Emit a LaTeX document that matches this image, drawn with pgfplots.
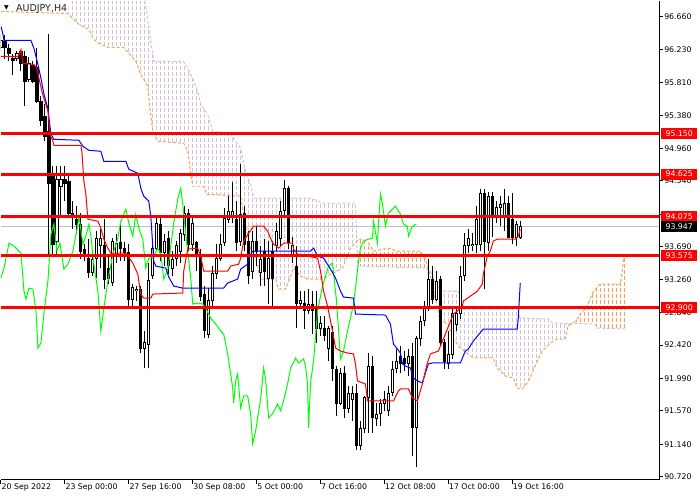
\documentclass[border=0pt]{standalone}
\usepackage{pgfplots}
\pgfplotsset{compat=1.18}
\usepackage{pgfplotstable}
\usepgfplotslibrary{fillbetween}
\usepackage{fontspec}
\setmainfont{DejaVu Sans}

\definecolor{thistleC}{RGB}{216,191,216}
\definecolor{sandyC}{RGB}{244,164,96}
\definecolor{limeC}{RGB}{0,255,0}
\definecolor{bidC}{RGB}{192,192,192}
\definecolor{mtred}{RGB}{255,0,0}
\definecolor{mtblue}{RGB}{0,0,255}

\pgfplotstableread{
x o h l c
0 96.26 96.43 96.21 96.35
4 96.34 96.42 96.11 96.26
8 96.25 96.31 96.08 96.18
12 96.12 96.18 95.90 96.09
16 96.12 96.21 96.08 96.18
20 96.21 96.23 95.95 96.05
24 96.14 96.21 95.50 95.82
28 95.85 96.14 95.82 96.05
32 96.03 96.08 95.80 95.82
36 96.00 96.25 95.54 95.56
40 95.56 95.63 95.24 95.31
44 95.37 95.53 95.05 95.11
48 95.18 96.43 93.57 94.50
52 94.60 94.73 93.55 93.72
56 93.76 94.73 93.55 94.56
60 94.47 94.73 94.08 94.56
64 94.56 94.73 94.28 94.50
68 94.53 94.60 94.08 94.11
72 94.12 94.28 93.92 94.06
76 94.04 94.21 93.85 93.98
80 93.98 94.12 93.53 93.63
84 93.66 93.72 93.50 93.59
88 93.54 93.79 93.28 93.35
92 93.35 93.66 93.31 93.53
96 93.54 93.89 93.28 93.80
100 93.70 93.92 93.41 93.80
104 93.70 94.04 93.14 93.27
108 93.41 93.59 93.21 93.28
112 93.22 93.80 93.18 93.76
116 93.57 93.85 93.48 93.73
120 93.74 93.98 93.50 93.67
124 93.67 93.75 93.50 93.61
128 93.61 93.73 92.92 93.01
132 93.01 93.21 92.92 93.16
136 93.12 93.18 92.99 93.14
140 93.14 93.18 92.32 92.38
144 92.38 92.60 92.12 92.45
148 92.43 93.48 92.12 93.25
152 93.31 93.76 93.27 93.67
156 93.67 94.08 93.63 93.99
160 93.98 94.08 93.50 93.61
164 93.61 93.85 93.44 93.76
168 93.79 93.89 93.34 93.44
172 93.40 93.63 93.31 93.53
176 93.53 93.76 93.44 93.70
180 93.63 93.92 93.48 93.86
184 93.85 94.21 93.76 94.12
188 94.12 94.17 93.63 93.72
192 93.72 94.08 93.63 93.99
196 93.74 93.76 93.37 93.59
200 93.59 93.66 92.99 93.05
204 93.08 93.18 92.51 92.60
208 92.56 93.15 92.51 92.99
212 92.99 93.44 92.92 93.35
216 93.34 93.72 93.27 93.54
220 93.54 93.85 93.50 93.72
224 93.74 94.19 93.70 94.06
228 94.04 94.34 93.99 94.15
232 94.08 94.53 93.99 94.15
236 94.04 94.28 93.63 93.74
240 93.76 94.75 93.70 94.11
244 94.12 94.21 93.63 93.72
248 93.76 93.89 93.21 93.31
252 93.37 93.89 93.27 93.76
256 93.76 93.95 93.44 93.63
260 93.35 93.70 93.18 93.53
264 93.63 93.79 93.18 93.37
268 93.28 93.76 92.95 93.54
272 93.63 93.76 92.92 93.28
276 93.70 93.99 93.63 93.89
280 93.79 94.28 93.70 94.15
284 94.15 94.55 94.08 94.44
288 94.44 94.47 93.66 93.74
292 93.57 93.82 93.48 93.70
296 93.44 93.70 92.64 92.95
300 92.95 93.12 92.92 92.99
304 92.96 93.12 92.63 92.86
308 92.86 93.14 92.82 92.95
312 92.95 93.12 92.56 92.86
316 92.92 93.12 92.45 92.63
320 92.63 92.79 92.54 92.70
324 92.64 92.79 92.47 92.54
328 92.37 92.66 92.21 92.63
332 92.58 92.66 91.96 92.11
336 92.11 92.15 91.51 91.67
340 91.67 92.12 91.64 92.06
344 92.06 92.15 91.48 91.60
348 91.60 91.89 91.54 91.79
352 91.72 91.89 91.44 91.79
356 91.79 91.92 91.07 91.12
360 91.12 91.44 91.07 91.34
364 91.34 91.76 91.29 91.74
368 91.74 92.32 91.29 92.15
372 92.15 92.28 91.29 91.48
376 91.47 91.67 91.38 91.53
380 91.53 91.73 91.38 91.67
384 91.67 91.83 91.57 91.72
388 91.57 91.89 91.51 91.80
392 91.80 92.21 91.76 92.11
396 92.11 92.37 92.06 92.21
400 92.28 92.41 92.06 92.18
404 92.25 92.34 92.09 92.18
408 92.18 92.37 92.02 92.28
412 92.28 92.45 90.99 91.35
416 91.35 92.54 90.84 92.50
420 92.50 92.79 92.41 92.73
424 92.73 92.99 92.66 92.90
428 92.90 93.53 92.86 93.27
432 93.27 93.44 92.95 93.01
436 93.01 93.37 92.99 93.24
440 93.27 93.31 92.41 92.45
444 92.45 92.50 92.11 92.21
448 92.18 92.60 92.11 92.30
452 92.30 92.92 92.24 92.83
456 92.69 92.92 92.60 92.83
460 92.82 93.44 92.76 93.31
464 93.31 93.86 93.24 93.70
468 93.70 93.92 93.61 93.79
472 93.70 93.86 93.63 93.72
476 93.72 94.21 93.61 94.04
480 93.72 94.43 93.63 94.38
484 94.38 94.43 93.14 93.76
488 93.74 94.40 93.63 94.34
492 94.34 94.40 93.82 94.08
496 94.08 94.28 93.99 94.19
500 94.19 94.34 93.95 94.24
504 94.06 94.43 93.89 94.25
508 94.25 94.34 93.80 93.80
512 94.04 94.38 93.72 93.80
516 93.80 94.02 93.70 93.98
520 93.81 94.02 93.79 93.947
}\candles

\begin{document}
\begin{tikzpicture}
\path[draw=none, fill=none] (0,0) rectangle (700pt,500pt);
\begin{axis}[
  set layers,
  fill between/on layer=axis background,
  at={(0pt,21pt)}, anchor=south west,
  scale only axis, width=659pt, height=479pt,
  xmin=0, xmax=659, ymin=90.681, ymax=96.853,
  axis x line*=bottom, axis y line*=right,
  axis line style={-, line width=1pt, black},
  clip mode=individual,
  tick align=outside, major tick length=4pt, minor tick length=0pt,
  tick style={black, line width=1pt},
  xtick={0,64,128,192,256,320,384,448,512},
  xticklabels={20 Sep 2022, 23 Sep 00:00, 27 Sep 16:00, 30 Sep 08:00, 5 Oct 00:00, 7 Oct 16:00, 12 Oct 08:00, 17 Oct 00:00, 19 Oct 16:00},
  ytick={96.66,96.23,95.81,95.38,94.96,94.54,94.11,93.69,93.26,92.84,92.42,91.99,91.57,91.14,90.72},
  yticklabels={96.660,96.230,95.810,95.380,94.960,94.540,{},93.690,93.260,92.840,92.420,91.990,91.570,91.140,90.720},
  minor xtick={2,6,...,658},
  minor ytick={90.700,90.7773,...,96.90},
  xminorgrids=true, yminorgrids=true,
  minor x grid style={white, line width=3pt},
  minor y grid style={white, line width=2pt},
  tick label style={font=\fontsize{7.8}{9}\selectfont, text=black},
  xticklabel style={anchor=north west, inner sep=0pt, xshift=0.5pt},
  yticklabel style={anchor=west, inner sep=0pt, xshift=1pt},
]
% Ichimoku cloud
\addplot[name path=SA, draw=none, mark=none, forget plot] coordinates {
(0,96.724) (67,96.698) (72,96.634) (78,96.557) (88,96.492) (93,96.363) (98,96.312) (107,96.260) (123,96.260) (127,96.196) (135,96.080) (140,95.912) (147,95.758) (149,95.500) (152,95.178) (157,95.049) (183,95.023) (187,94.920) (190,94.637) (192,94.469) (203,94.469) (206,94.366) (240,94.340) (245,93.954) (250,93.658) (255,93.529) (260,93.271) (275,93.271) (278,93.142) (285,93.142) (287,93.207) (293,93.413) (300,93.310) (307,93.271) (323,93.271) (330,93.335) (337,93.374) (342,93.413) (350,93.670) (358,93.786) (363,93.786) (368,93.735) (373,93.632) (383,93.658) (390,93.670) (395,93.632) (420,93.632) (425,93.529) (430,93.310) (440,92.730) (448,92.691) (452,92.511) (457,92.433) (460,92.382) (473,92.253) (493,92.253) (497,92.124) (505,92.021) (513,91.995) (517,91.866) (522,91.854) (527,91.931) (532,92.060) (537,92.215) (542,92.343) (550,92.446) (557,92.498) (565,92.498) (568,92.665) (573,92.704) (577,92.755) (580,92.820) (585,92.884) (588,92.962) (592,93.078) (595,93.142) (600,93.207) (620,93.207) (622,93.348) (623,93.503) (625,93.606)};
\addplot[name path=SB, draw=none, mark=none, forget plot] coordinates {
(0,96.724) (67,96.698) (70,97.046) (140,97.046) (145,96.789) (150,96.338) (153,96.080) (182,96.080) (185,96.041) (192,95.861) (197,95.693) (200,95.526) (207,95.397) (212,95.178) (230,95.152) (233,95.088) (240,94.959) (245,94.663) (250,94.495) (253,94.315) (310,94.315) (323,94.250) (355,94.250) (357,93.439) (425,93.413) (430,93.374) (440,93.116) (458,93.116) (462,92.897) (517,92.897) (520,92.768) (550,92.755) (552,92.704) (595,92.691) (597,92.640) (625,92.627)};
\addplot[fill=thistleC, draw=none] fill between[of=SA and SB, soft clip={domain=0:356}];
\addplot[fill=sandyC, draw=none] fill between[of=SA and SB, soft clip={domain=356:428}];
\addplot[fill=thistleC, draw=none] fill between[of=SA and SB, soft clip={domain=428:571}];
\addplot[fill=sandyC, draw=none] fill between[of=SA and SB, soft clip={domain=571:625}];
% span lines (dashed)
\addplot[draw=thistleC, line width=1pt, dash pattern=on 3pt off 2pt, mark=none] coordinates {
(70,97.046) (140,97.046) (145,96.789) (150,96.338) (153,96.080) (182,96.080) (185,96.041) (192,95.861) (197,95.693) (200,95.526) (207,95.397) (212,95.178) (230,95.152) (233,95.088) (240,94.959) (245,94.663) (250,94.495) (253,94.315) (310,94.315) (323,94.250) (355,94.250) (357,93.439) (425,93.413) (430,93.374) (440,93.116) (458,93.116) (462,92.897) (517,92.897) (520,92.768) (550,92.755) (552,92.704) (595,92.691) (597,92.640) (625,92.627)};
\addplot[draw=sandyC, line width=1pt, dash pattern=on 3pt off 2pt, mark=none] coordinates {
(0,96.724) (67,96.698) (72,96.634) (78,96.557) (88,96.492) (93,96.363) (98,96.312) (107,96.260) (123,96.260) (127,96.196) (135,96.080) (140,95.912) (147,95.758) (149,95.500) (152,95.178) (157,95.049) (183,95.023) (187,94.920) (190,94.637) (192,94.469) (203,94.469) (206,94.366) (240,94.340) (245,93.954) (250,93.658) (255,93.529) (260,93.271) (275,93.271) (278,93.142) (285,93.142) (287,93.207) (293,93.413) (300,93.310) (307,93.271) (323,93.271) (330,93.335) (337,93.374) (342,93.413) (350,93.670) (358,93.786) (363,93.786) (368,93.735) (373,93.632) (383,93.658) (390,93.670) (395,93.632) (420,93.632) (425,93.529) (430,93.310) (440,92.730) (448,92.691) (452,92.511) (457,92.433) (460,92.382) (473,92.253) (493,92.253) (497,92.124) (505,92.021) (513,91.995) (517,91.866) (522,91.854) (527,91.931) (532,92.060) (537,92.215) (542,92.343) (550,92.446) (557,92.498) (565,92.498) (568,92.665) (573,92.704) (577,92.755) (580,92.820) (585,92.884) (588,92.962) (592,93.078) (595,93.142) (600,93.207) (620,93.207) (622,93.348) (623,93.503) (625,93.606)};
% bid line
\addplot[bidC, line width=1pt, mark=none] coordinates {(0,93.947) (659,93.947)};
% candles: wicks, bodies, white interiors
\addplot[draw=none, mark=none, forget plot, error bars/.cd, y dir=plus, y explicit, error mark=none, error bar style={line width=1pt, draw=black}]
  table[x=x, y=l, y error expr=\thisrow{h}-\thisrow{l}] {\candles};
\addplot[draw=none, mark=none, forget plot, error bars/.cd, y dir=plus, y explicit, error mark=none, error bar style={line width=3.2pt, draw=black}]
  table[x=x, y expr={min(\thisrow{o},\thisrow{c})-0.005}, y error expr={abs(\thisrow{c}-\thisrow{o})+0.010}] {\candles};
\addplot[draw=none, mark=none, forget plot, error bars/.cd, y dir=plus, y explicit, error mark=none, error bar style={line width=1.2pt, draw=white}]
  table[x=x, y expr={\thisrow{o}+0.008}, y error expr={max(\thisrow{c}-\thisrow{o}-0.016,0)}] {\candles};
% Chikou
\addplot[limeC, line width=1pt, mark=none] coordinates {
(0,93.284) (3,93.413) (8,93.735) (13,93.696) (20,93.606) (23,93.116) (25,93.013) (28,93.155) (32,93.142) (35,92.859) (37,92.382) (40,92.446) (43,92.833) (47,93.245) (50,93.851) (53,93.980) (56,93.632) (59,93.735) (63,93.400) (67,93.464) (72,93.632) (77,93.980) (78,94.083) (82,93.722) (85,93.825) (88,93.980) (90,93.825) (93,93.464) (97,93.116) (100,92.601) (103,92.897) (107,93.245) (112,93.593) (117,93.799) (120,94.018) (125,94.173) (128,93.993) (132,93.825) (135,94.109) (138,93.928) (142,93.786) (145,93.413) (148,93.542) (152,93.542) (157,93.670) (160,93.593) (163,93.271) (167,93.400) (170,93.696) (173,93.993) (177,94.302) (180,94.444) (182,94.237) (185,93.851) (187,93.632) (190,93.284) (192,92.949) (197,92.962) (202,92.949) (205,92.897) (210,92.768) (215,92.691) (220,92.601) (223,92.562) (227,92.305) (230,92.047) (232,91.866) (233,91.673) (235,91.957) (237,92.047) (240,91.609) (243,91.763) (247,91.763) (250,91.532) (252,91.145) (255,91.312) (260,91.725) (263,92.124) (265,91.982) (268,91.480) (272,91.532) (277,91.660) (280,91.570) (283,91.699) (287,91.918) (290,92.124) (295,92.253) (298,92.189) (303,92.240) (305,92.150) (307,91.918) (308,91.351) (310,91.931) (313,92.215) (317,92.859) (322,93.181) (328,93.439) (332,93.477) (336,92.988) (340,92.240) (343,92.343) (347,92.601) (350,92.768) (353,92.949) (355,93.155) (358,93.503) (360,93.670) (363,93.761) (368,93.786) (372,93.799) (373,94.018) (377,93.735) (378,93.980) (380,94.366) (382,94.237) (385,93.954) (388,94.121) (395,94.212) (400,94.109) (403,93.980) (407,93.954) (408,93.825) (412,93.954) (416,93.980)};
% Kijun
\addplot[mtblue, line width=1pt, mark=none] coordinates {
(0,96.531) (2,96.428) (3,96.350) (30,96.350) (33,96.247) (37,96.041) (40,95.861) (43,95.655) (47,95.474) (50,95.139) (53,95.075) (78,95.062) (82,94.985) (88,94.933) (100,94.920) (103,94.791) (125,94.791) (128,94.688) (137,94.637) (140,94.444) (143,94.340) (148,94.276) (150,94.083) (152,93.696) (153,93.503) (155,93.439) (165,93.413) (168,93.297) (173,93.181) (182,93.155) (223,93.155) (227,93.220) (237,93.271) (240,93.400) (247,93.464) (248,93.542) (252,93.632) (310,93.632) (313,93.670) (317,93.567) (323,93.542) (330,93.400) (335,93.284) (340,93.116) (343,93.039) (353,93.026) (355,92.820) (385,92.807) (390,92.691) (393,92.433) (397,92.369) (400,92.317) (402,92.176) (405,92.150) (410,92.124) (413,91.995) (417,91.957) (422,91.931) (425,92.060) (428,92.176) (432,92.189) (460,92.189) (465,92.343) (468,92.369) (473,92.472) (483,92.627) (517,92.627) (518,92.768) (520,93.220)};
% Tenkan
\addplot[mtred, line width=1pt, mark=none] coordinates {
(0,96.144) (17,96.144) (20,96.235) (22,96.054) (33,96.041) (36,95.990) (38,95.861) (41,95.693) (43,95.603) (47,95.436) (49,95.139) (52,95.049) (53,94.998) (80,94.998) (81,94.920) (83,94.534) (85,94.366) (87,94.044) (97,94.018) (100,93.928) (103,93.786) (107,93.670) (110,93.606) (125,93.606) (127,93.567) (132,93.477) (137,93.335) (138,93.245) (140,93.078) (143,93.026) (150,93.026) (152,93.078) (182,93.091) (183,93.374) (187,93.658) (197,93.670) (200,93.567) (203,93.374) (227,93.374) (230,93.439) (238,93.464) (240,93.542) (243,93.761) (248,93.864) (253,93.954) (263,93.954) (267,93.889) (272,93.735) (278,93.670) (283,93.735) (292,93.735) (293,93.658) (297,93.593) (317,93.542) (320,93.374) (323,93.116) (327,92.923) (332,92.601) (335,92.382) (340,92.343) (347,92.317) (353,92.305) (355,92.176) (357,91.957) (365,91.918) (367,91.699) (393,91.699) (398,91.828) (400,91.854) (408,91.854) (412,91.738) (417,91.699) (422,91.918) (425,92.086) (427,92.189) (430,92.305) (438,92.343) (443,92.498) (453,92.820) (457,92.859) (462,92.923) (463,92.988) (473,93.078) (477,93.116) (482,93.207) (483,93.335) (487,93.567) (490,93.632) (493,93.761) (497,93.786) (515,93.786) (518,93.825) (520,93.915)};
% horizontal levels
\addplot[mtred, line width=3pt, mark=none] coordinates {(0,95.150) (659,95.150)};
\addplot[mtred, line width=3pt, mark=none] coordinates {(0,94.625) (659,94.625)};
\addplot[mtred, line width=3pt, mark=none] coordinates {(0,94.075) (659,94.075)};
\addplot[mtred, line width=3pt, mark=none] coordinates {(0,93.575) (659,93.575)};
\addplot[mtred, line width=3pt, mark=none] coordinates {(0,92.900) (659,92.900)};
\coordinate (L1) at (axis cs:661,95.150);
\coordinate (L2) at (axis cs:661,94.625);
\coordinate (L3) at (axis cs:661,94.075);
\coordinate (L4) at (axis cs:661,93.575);
\coordinate (L5) at (axis cs:661,92.900);
\coordinate (L6) at (axis cs:661,93.947);
\end{axis}
\tikzset{lbl/.style={anchor=west, inner sep=0pt, minimum width=36pt, minimum height=11pt, text=white, font=\fontsize{7.8}{9}\selectfont}}
\node[lbl, fill=mtred] at (L1) {95.150};
\node[lbl, fill=mtred] at (L2) {94.625};
\node[lbl, fill=mtred] at (L3) {94.075};
\node[lbl, fill=mtred] at (L4) {93.575};
\node[lbl, fill=mtred] at (L5) {92.900};
\node[lbl, fill=black] at (L6) {93.947};
\node[anchor=north west, inner sep=0pt, font=\fontsize{9.5}{11}\selectfont, text=black!85] at (15pt,497pt) {AUDJPY,H4};
\node[anchor=north west, inner sep=0pt, font=\fontsize{6}{6}\selectfont] at (3pt,496pt) {▼};
\end{tikzpicture}
\end{document}
